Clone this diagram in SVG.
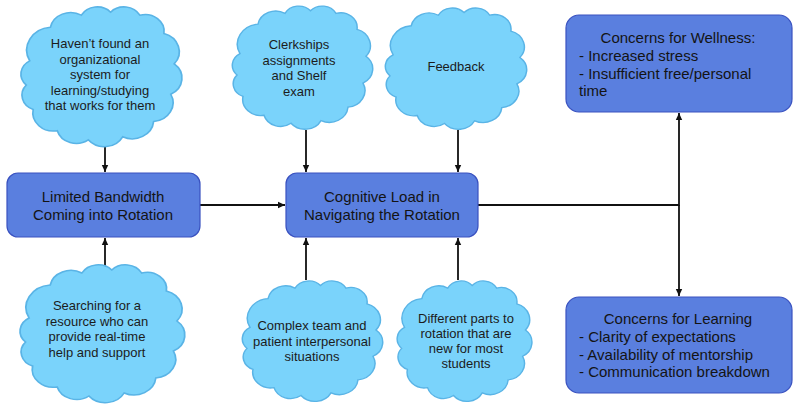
<svg xmlns="http://www.w3.org/2000/svg" width="800" height="408" viewBox="0 0 800 408">
<style>
.cloud{fill:#7ad3fb;stroke:#5ab4e6;stroke-width:1;vector-effect:non-scaling-stroke}
.box{fill:#5a7fdf;stroke:#3a52c0;stroke-width:1.2}
.ct{font-family:"Liberation Sans",Arial,sans-serif;font-size:13px;fill:#1c1c1c;text-anchor:middle}
.bt{font-family:"Liberation Sans",Arial,sans-serif;font-size:15px;fill:#141414;text-anchor:middle}
.bl{font-family:"Liberation Sans",Arial,sans-serif;font-size:15px;fill:#141414}
.con{fill:none;stroke:#111;stroke-width:1.8;marker-end:url(#ah)}
</style>
<defs>
<marker id="ah" markerUnits="userSpaceOnUse" markerWidth="8" markerHeight="8" refX="7" refY="4" orient="auto">
<path d="M0,0.8 L7,4 L0,7.2 z" fill="#111"/>
</marker>
<path id="cl" d="M8,40 A15,15 0 0 1 20,18 A12,12 0 0 1 38,10 A10.5,10.5 0 0 1 55,8 A10.5,10.5 0 0 1 72,10 A11,11 0 0 1 86,22 A12.5,12.5 0 0 1 92,42 A12,12 0 0 1 90,62 A12.5,12.5 0 0 1 80,80 A12.5,12.5 0 0 1 62,90 A12,12 0 0 1 42,92 A11.5,11.5 0 0 1 24,86 A12,12 0 0 1 10,72 A10,10 0 0 1 6,56 A10,10 0 0 1 8,40 Z"/>
</defs>
<rect width="800" height="408" fill="#fff"/>

<g id="connectors">
<path class="con" d="M105,147 V172"/>
<path class="con" d="M105,270 V238"/>
<path class="con" d="M200,205 H285"/>
<path class="con" d="M306,130 V172"/>
<path class="con" d="M458,130 V172"/>
<path class="con" d="M306,280 V238"/>
<path class="con" d="M458,280 V238"/>
<path class="con" d="M478,205 H679 V113"/>
<path class="con" d="M679,205 V296"/>
</g>

<g id="cloud-organizational">
<use href="#cl" class="cloud" transform="translate(16,0) scale(1.72,1.52)"/>
<text class="ct" x="100" y="48">Haven’t found an</text>
<text class="ct" x="100" y="63.5">organizational</text>
<text class="ct" x="100" y="79">system for</text>
<text class="ct" x="100" y="94.5">learning/studying</text>
<text class="ct" x="100" y="110">that works for them</text>
</g>

<g id="cloud-searching">
<use href="#cl" class="cloud" transform="translate(15,258) scale(1.76,1.5)"/>
<text class="ct" x="97" y="310">Searching for a</text>
<text class="ct" x="97" y="325.5">resource who can</text>
<text class="ct" x="97" y="341">provide real-time</text>
<text class="ct" x="97" y="356.5">help and support</text>
</g>

<g id="cloud-clerkships">
<use href="#cl" class="cloud" transform="translate(228,0) scale(1.5,1.34)"/>
<text class="ct" x="299" y="49">Clerkships</text>
<text class="ct" x="299" y="64.5">assignments</text>
<text class="ct" x="299" y="80">and Shelf</text>
<text class="ct" x="299" y="95.5">exam</text>
</g>

<g id="cloud-feedback">
<use href="#cl" class="cloud" transform="translate(381,2) scale(1.51,1.32)"/>
<text class="ct" x="456" y="71">Feedback</text>
</g>

<g id="cloud-complex">
<use href="#cl" class="cloud" transform="translate(238,275) scale(1.5,1.31)"/>
<text class="ct" x="312" y="330">Complex team and</text>
<text class="ct" x="312" y="345.5">patient interpersonal</text>
<text class="ct" x="312" y="361">situations</text>
</g>

<g id="cloud-different">
<use href="#cl" class="cloud" transform="translate(393,275) scale(1.44,1.31)"/>
<text class="ct" x="466" y="323">Different parts to</text>
<text class="ct" x="466" y="338">rotation that are</text>
<text class="ct" x="466" y="353">new for most</text>
<text class="ct" x="466" y="368">students</text>
</g>

<g id="box-bandwidth">
<rect class="box" x="7" y="173" width="193" height="64" rx="11"/>
<text class="bt" x="103" y="202">Limited Bandwidth</text>
<text class="bt" x="103" y="220">Coming into Rotation</text>
</g>

<g id="box-cognitive">
<rect class="box" x="286" y="173" width="192" height="64" rx="11"/>
<text class="bt" x="382" y="202">Cognitive Load in</text>
<text class="bt" x="382" y="220">Navigating the Rotation</text>
</g>

<g id="box-wellness">
<rect class="box" x="566" y="15" width="226" height="97" rx="13"/>
<text class="bt" x="678" y="43">Concerns for Wellness:</text>
<text class="bl" x="579" y="61">- Increased stress</text>
<text class="bl" x="579" y="78.5">- Insufficient free/personal</text>
<text class="bl" x="579" y="96">time</text>
</g>

<g id="box-learning">
<rect class="box" x="566" y="297" width="226" height="96" rx="13"/>
<text class="bt" x="678" y="324">Concerns for Learning</text>
<text class="bl" x="579" y="342">- Clarity of expectations</text>
<text class="bl" x="579" y="359.5">- Availability of mentorship</text>
<text class="bl" x="579" y="377">- Communication breakdown</text>
</g>
</svg>
